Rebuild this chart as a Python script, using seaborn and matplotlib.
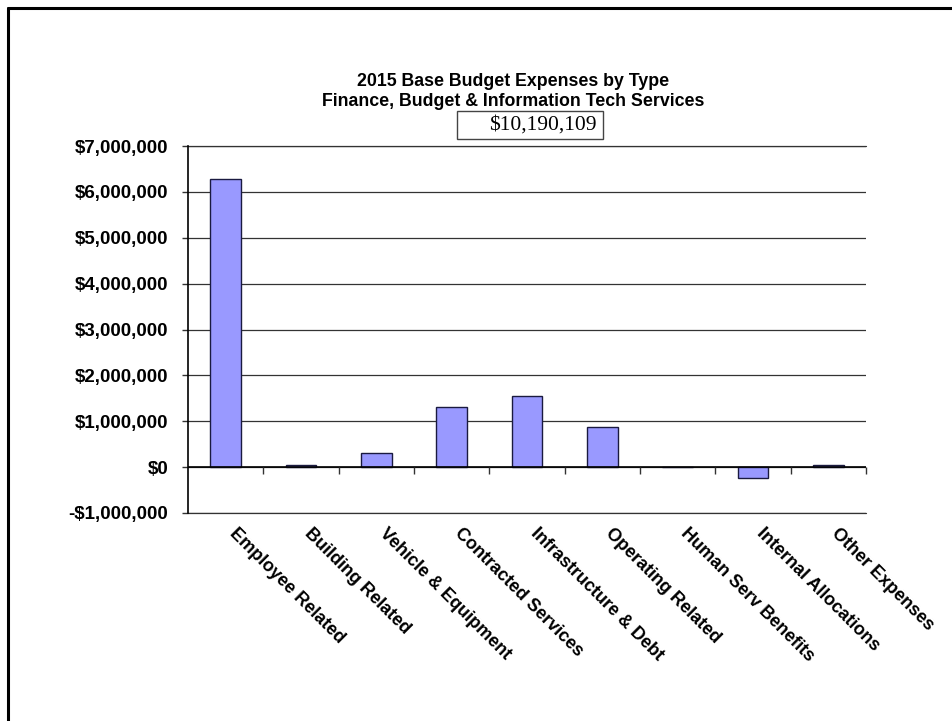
import numpy as np
import pandas as pd
import matplotlib
matplotlib.use("Agg")
import matplotlib.pyplot as plt
from matplotlib.lines import Line2D
from matplotlib.patches import Rectangle
from matplotlib.ticker import FuncFormatter, MultipleLocator
import seaborn as sns

# Expense categories and their 2015 base budget amounts (USD)
categories = [
    "Employee Related", "Building Related", "Vehicle & Equipment",
    "Contracted Services", "Infrastructure & Debt", "Operating Related",
    "Human Serv Benefits", "Internal Allocations", "Other Expenses",
]
amounts = [6290109, 50000, 300000, 1300000, 1560000, 880000, 0, -230000, 40000]
total_label = "$10,190,109"
title_lines = ["2015 Base Budget Expenses by Type",
               "Finance, Budget & Information Tech Services"]

sns.set_style("white")
plt.rcParams["font.family"] = ["Liberation Sans", "DejaVu Sans"]
plt.rcParams["text.color"] = "black"
plt.rcParams["xtick.color"] = "black"
plt.rcParams["ytick.color"] = "black"

W, H, DPI = 952, 721, 100
fig = plt.figure(figsize=(W / DPI, H / DPI), dpi=DPI, facecolor="white")
ax = fig.add_axes([188 / W, 1 - 513 / H, (866 - 188) / W, (513 - 146) / H])
ax.set_facecolor("white")

df = pd.DataFrame({"category": categories, "amount": amounts})
sns.barplot(data=df, x="category", y="amount", color="#9999FF",
            saturation=1, edgecolor="#1a1a40", linewidth=1.0,
            width=0.41, ax=ax, zorder=3)

ax.set_xlim(-0.5, len(categories) - 0.5)
ymin, ymax = -1_000_000, 7_000_000
ax.set_ylim(ymin, ymax)
ax.yaxis.set_major_locator(MultipleLocator(1_000_000))


def money(v, _pos):
    v = int(round(v))
    return f"-${abs(v):,}" if v < 0 else f"${v:,}"


ax.yaxis.set_major_formatter(FuncFormatter(money))
ax.yaxis.grid(True, color="#333333", linewidth=0.9, zorder=0)
ax.xaxis.grid(False)
# keep the edge gridlines at full strength
for edge in (ymin, ymax):
    ax.axhline(edge, color="#333333", linewidth=0.9, zorder=1, clip_on=False)

for side in ("top", "right", "bottom"):
    ax.spines[side].set_visible(False)
ax.spines["left"].set_color("black")
ax.spines["left"].set_linewidth(1.2)
ax.spines["left"].set_zorder(4)

ax.tick_params(axis="y", left=True, length=4.3, width=1, color="#333333",
               labelcolor="black", pad=10, labelsize=13.5)
ax.tick_params(axis="x", bottom=False, length=0, pad=8.6, labelsize=13,
               labelcolor="black")
for lab in ax.get_yticklabels():
    lab.set_fontweight("bold")
for lab in ax.get_xticklabels():
    lab.set_fontweight("bold")
    lab.set_rotation(-45)
    lab.set_ha("left")
    lab.set_va("top")
ax.set_xlabel("")
ax.set_ylabel("")

# category axis at zero with tick marks between categories
ax.axhline(0, color="black", linewidth=1.2, zorder=4)
bounds = np.arange(len(categories)) + 0.5
ax.plot(bounds, np.zeros_like(bounds), linestyle="none", marker=3,
        markersize=5, markeredgewidth=1, color="#333333", zorder=4,
        clip_on=False)

# title and total box
cx = 513 / W
fig.text(cx, 1 - 82 / H, title_lines[0], ha="center", va="center",
         fontsize=12.8, fontweight="bold", color="black")
fig.text(cx, 1 - 101 / H, title_lines[1], ha="center", va="center",
         fontsize=12.8, fontweight="bold", color="black")
fig.add_artist(Rectangle((457 / W, 1 - 139 / H), (603 - 457) / W, 28 / H,
                         transform=fig.transFigure, facecolor="none",
                         edgecolor="#444444", linewidth=1.0, zorder=2))
fig.text(597 / W, 1 - 125 / H, total_label, ha="right", va="center",
         fontsize=15.5, family=["Liberation Serif", "DejaVu Serif"],
         color="black", zorder=3)

# frame lines on the left and top edges
fig.add_artist(Line2D([8 / W, 8 / W], [0, 1 - 8 / H], transform=fig.transFigure,
                      color="black", linewidth=2.2))
fig.add_artist(Line2D([8 / W, 1], [1 - 8 / H, 1 - 8 / H], transform=fig.transFigure,
                      color="black", linewidth=2.2))

fig.savefig("out.png", dpi=DPI, facecolor="white")
